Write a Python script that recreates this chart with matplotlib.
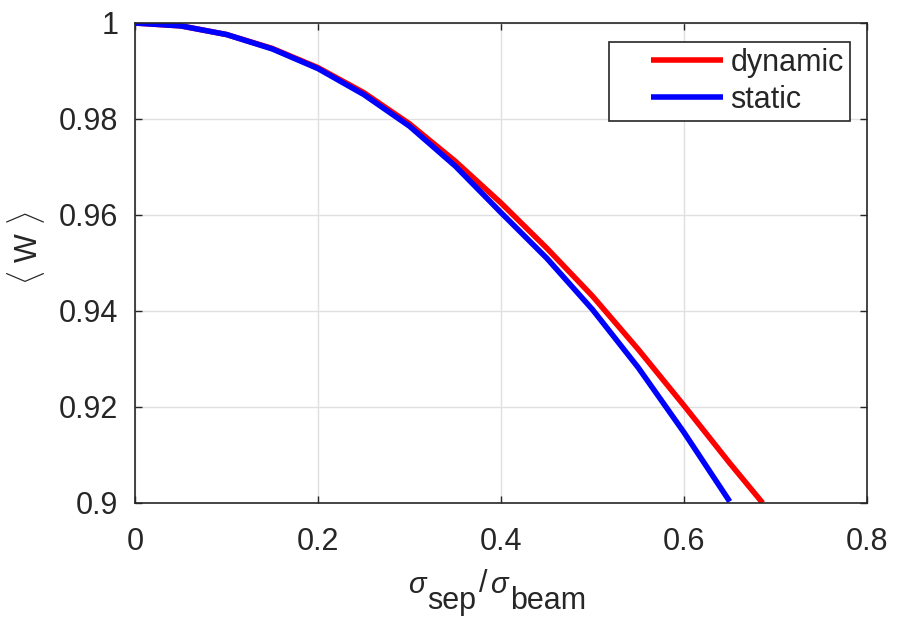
import numpy as np
import matplotlib
matplotlib.use('Agg')
import matplotlib.pyplot as plt
from matplotlib.legend_handler import HandlerLine2D

# values
x_static = [0, 0.05, 0.1, 0.15, 0.2, 0.25, 0.3, 0.35, 0.4, 0.45, 0.5, 0.55, 0.6, 0.65]
w_static = [1.0, 0.9994, 0.9976, 0.9946, 0.9905, 0.9851, 0.9785, 0.9702, 0.9605,
            0.9510, 0.9403, 0.9282, 0.9147, 0.9003]

x_dynamic = [0, 0.05, 0.1, 0.15, 0.2, 0.25, 0.3, 0.35, 0.4, 0.45, 0.5, 0.55, 0.6, 0.65, 0.686]
w_dynamic = [1.0, 0.9994, 0.9976, 0.9947, 0.9907, 0.9855, 0.9790, 0.9712, 0.9625,
             0.9531, 0.9431, 0.9320, 0.9203, 0.9083, 0.9000]

xticks = [0, 0.2, 0.4, 0.6, 0.8]
xtick_labels = ['0', '0.2', '0.4', '0.6', '0.8']
yticks = [0.9, 0.92, 0.94, 0.96, 0.98, 1.0]
ytick_labels = ['0.9', '0.92', '0.94', '0.96', '0.98', '1']

plt.rcParams['font.family'] = ['Liberation Sans', 'DejaVu Sans']
plt.rcParams['mathtext.fontset'] = 'custom'
plt.rcParams['mathtext.rm'] = 'Liberation Sans'
plt.rcParams['mathtext.it'] = 'Liberation Sans:italic'

txt = '#262626'
fs = 22

fig = plt.figure(figsize=(9.04, 6.28), dpi=100)
ax = fig.add_axes([135/904, 1 - 503/628, 732/904, 480/628])

ax.plot(x_dynamic, w_dynamic, color='#ff0000', lw=4, label='dynamic', solid_capstyle='butt')
ax.plot(x_static, w_static, color='#0000ff', lw=4, label='static', solid_capstyle='butt')

ax.set_xlim(0, 0.8)
ax.set_ylim(0.9, 1.0)
ax.set_xticks(xticks)
ax.set_xticklabels(xtick_labels)
ax.set_yticks(yticks)
ax.set_yticklabels(ytick_labels)
ax.grid(True, color='#e0e0e0', lw=1)
ax.set_axisbelow(True)

ax.tick_params(direction='in', length=5, width=1, colors=txt, labelsize=fs,
               top=True, right=True)
ax.tick_params(axis='x', pad=17)
ax.tick_params(axis='y', pad=12)
for s in ax.spines.values():
    s.set_color(txt)
    s.set_linewidth(1.2)

# y label, angle brackets round W
ax.set_ylabel(r'$\langle$ W $\rangle$', fontsize=fs, color=txt)
ax.yaxis.set_label_coords(-0.12, 0.53)

# x label built from pieces: sigma_sep / sigma_beam (MATLAB tex style)
s1 = fig.text(408/904, 1 - 593/628, '\u03c3', fontsize=21, style='italic', color=txt,
              ha='left', va='baseline')
p1 = ax.annotate('sep', xy=(1, 0), xycoords=s1, xytext=(1, -12), textcoords='offset points',
                 fontsize=fs, color=txt, ha='left', va='bottom')
p2 = ax.annotate('/', xy=(1, 0), xycoords=p1, xytext=(2, 12), textcoords='offset points',
                 fontsize=fs, color=txt, ha='left', va='bottom')
p3 = ax.annotate('\u03c3', xy=(1, 0), xycoords=p2, xytext=(2, 0), textcoords='offset points',
                 fontsize=21, style='italic', color=txt, ha='left', va='bottom')
p4 = ax.annotate('beam', xy=(1, 0), xycoords=p3, xytext=(2, -12), textcoords='offset points',
                 fontsize=fs, color=txt, ha='left', va='bottom')

leg = ax.legend(loc='upper right', bbox_to_anchor=((850 - 135) / 732, (503 - 42) / 480),
                borderaxespad=0, fontsize=fs, handlelength=3.56, handletextpad=0.23,
                labelspacing=0.22, borderpad=0.2, fancybox=False, framealpha=1,
                handler_map={plt.Line2D: HandlerLine2D(xpad=1.18)})
leg.get_frame().set_edgecolor(txt)
leg.get_frame().set_linewidth(1.2)
for t in leg.get_texts():
    t.set_color(txt)

fig.savefig('out.png', dpi=100)
